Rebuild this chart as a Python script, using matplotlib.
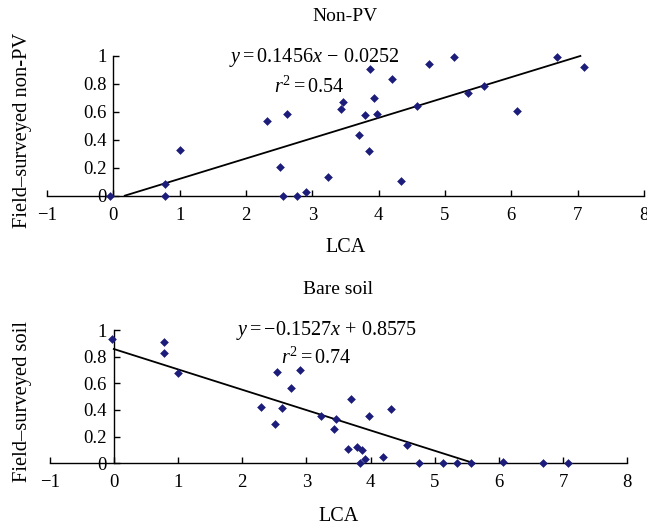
import numpy as np
import matplotlib
matplotlib.use("Agg")
import matplotlib.pyplot as plt

plt.rcParams['font.family'] = ['Liberation Serif', 'DejaVu Serif']
plt.rcParams['mathtext.fontset'] = 'custom'
plt.rcParams['mathtext.rm'] = 'Liberation Serif'
plt.rcParams['mathtext.it'] = 'Liberation Serif:italic'

# ---- data ----
npv_lca = [-0.05, 0.78, 0.78, 1.00, 2.31, 2.51, 2.62, 2.555, 2.77, 2.906, 3.23, 3.44,
           3.47, 3.71, 3.80, 3.87, 3.85, 3.93, 3.98, 4.20, 4.33, 4.585, 4.757, 5.14,
           5.35, 5.59, 6.08, 6.69, 7.09]
npv_field = [0.00, 0.084, 0.00, 0.327, 0.532, 0.208, 0.585, 0.00, 0.00, 0.026, 0.134, 0.62,
             0.668, 0.434, 0.578, 0.905, 0.32, 0.697, 0.585, 0.833, 0.107, 0.644, 0.94, 0.995,
             0.737, 0.787, 0.608, 0.995, 0.919]
npv_slope, npv_icept, npv_r2 = 0.1456, -0.0252, 0.54

soil_lca = [-0.036, 0.776, 0.776, 0.994, 2.30, 2.505, 2.55, 2.62, 2.76, 2.90, 3.22, 3.458,
            3.43, 3.65, 3.70, 3.79, 3.86, 3.84, 3.92, 3.97, 4.19, 4.32, 4.57, 4.75, 5.13,
            5.34, 5.57, 6.07, 6.68, 7.07]
soil_field = [0.935, 0.912, 0.827, 0.675, 0.422, 0.292, 0.683, 0.415, 0.567, 0.697, 0.357, 0.332,
              0.26, 0.107, 0.482, 0.12, 0.10, 0.00, 0.032, 0.355, 0.05, 0.407, 0.137, 0.00, 0.00,
              0.00, 0.00, 0.01, 0.00, 0.00]
soil_slope, soil_icept, soil_r2 = -0.1527, 0.8575, 0.74

x_ticks = [-1, 0, 1, 2, 3, 4, 5, 6, 7, 8]
y_ticks = [0, 0.2, 0.4, 0.6, 0.8, 1]
y_tick_labels = ['0', '0.2', '0.4', '0.6', '0.8', '1']

MARKER_C = '#1c1c7a'

fig = plt.figure(figsize=(6.47, 5.26), dpi=100)


def fit_segment(m, b, xmin, xmax, ymin, ymax):
    lo, hi = xmin, xmax
    ya, yb = (ymin - b) / m, (ymax - b) / m
    lo = max(lo, min(ya, yb))
    hi = min(hi, max(ya, yb))
    return np.array([lo, hi]), m * np.array([lo, hi]) + b


def panel(rect, xs, ys, m, b, r2, title, ylabel, eq_xy, r2_xy, eq_text,
          ylab_x, xlab_y, title_pad):
    ax = fig.add_axes(rect)
    ax.set_xlim(-1, 8)
    ax.set_ylim(0, 1)
    for s in ('top', 'right'):
        ax.spines[s].set_visible(False)
    ax.spines['left'].set_position(('data', 0))
    ax.spines['bottom'].set_position(('data', 0))
    for s in ('left', 'bottom'):
        ax.spines[s].set_linewidth(1.0)
    ax.set_xticks(x_ticks)
    ax.set_yticks(y_ticks)
    ax.set_yticklabels(y_tick_labels)
    ax.tick_params(direction='in', length=4.3, width=1.0, labelsize=13.5)
    ax.tick_params(axis='y', pad=5)
    ax.tick_params(axis='x', pad=8)
    lx, ly = fit_segment(m, b, 0, 8, 0, 1)
    ax.plot(lx, ly, color='black', lw=1.3, zorder=2, clip_on=False)
    ax.scatter(xs, ys, marker='D', s=16, color=MARKER_C, edgecolors=MARKER_C,
               linewidths=0.4, zorder=3, clip_on=False)
    ax.text(eq_xy[0], eq_xy[1], eq_text, fontsize=14.5, ha='center', va='center')
    ax.text(r2_xy[0], r2_xy[1], r'$r^2 = %.2f$' % r2, fontsize=14.5,
            ha='center', va='center')
    ax.set_title(title, fontsize=14, pad=title_pad)
    ax.set_xlabel('LCA', fontsize=14.5)
    ax.xaxis.set_label_coords(0.5, xlab_y)
    ax.xaxis.label.set_va('top')
    ax.set_ylabel(ylabel, fontsize=14.8)
    ax.yaxis.set_label_coords(ylab_x, 0.465)
    return ax


panel([0.0726, 0.628, 0.9227, 0.2656], npv_lca, npv_field, npv_slope, npv_icept, npv_r2,
      'Non-PV', 'Field\u2013surveyed non-PV', (3.03, 0.99), (2.95, 0.78),
      r'$y = %.4fx\,-\,%.4f$' % (npv_slope, -npv_icept), -0.025, -0.30, 25)

panel([0.0767, 0.1192, 0.8929, 0.2534], soil_lca, soil_field, soil_slope, soil_icept, soil_r2,
      'Bare soil', 'Field\u2013surveyed soil', (3.31, 1.0), (3.15, 0.79),
      r'$y = -%.4fx\,+\,%.4f$' % (-soil_slope, soil_icept), -0.030, -0.33, 26)

fig.savefig('out.png', dpi=100)
